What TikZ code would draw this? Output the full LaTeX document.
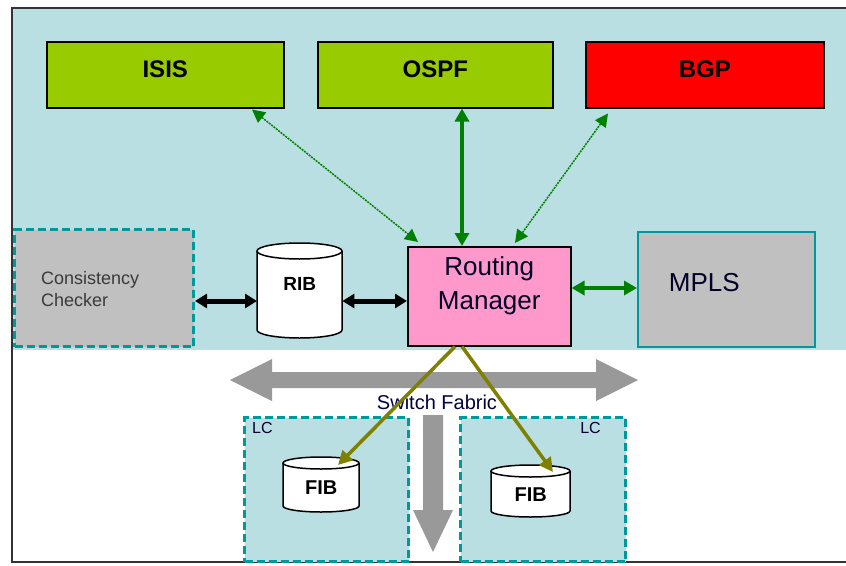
\documentclass[tikz,border=0pt]{standalone}
\usepackage{fontspec}
\setmainfont{Liberation Sans}
\usetikzlibrary{arrows.meta,calc}

\definecolor{panel}{HTML}{BADFE2}
\definecolor{protogreen}{HTML}{99CC00}
\definecolor{protored}{HTML}{FF0000}
\definecolor{mgrpink}{HTML}{FF99CC}
\definecolor{boxgray}{HTML}{C0C0C0}
\definecolor{teal}{HTML}{009999}
\definecolor{linkgreen}{HTML}{008000}
\definecolor{fiblink}{HTML}{808000}
\definecolor{fabric}{HTML}{999999}
\definecolor{framecol}{HTML}{333333}
\definecolor{cctext}{HTML}{3A3A3A}

% database drum: left, top, right, bottom, half-height of the end ellipses
\newcommand{\drum}[5]{%
  \pgfmathsetmacro\drumrx{(#3-#1)/2}%
  \pgfmathsetmacro\drumcx{(#1+#3)/2}%
  \fill[white] (#1,#2+#5) -- (#1,#4-#5)
    arc[start angle=180,end angle=360,x radius=\drumrx pt,y radius=#5pt]
    -- (#3,#2+#5) -- cycle;
  \draw[drumline] (#1,#2+#5) -- (#1,#4-#5)
    arc[start angle=180,end angle=360,x radius=\drumrx pt,y radius=#5pt]
    -- (#3,#2+#5);
  \draw[drumline,fill=white] (\drumcx,#2+#5) ellipse[x radius=\drumrx pt,y radius=#5pt];
}

\begin{document}
\begin{tikzpicture}[x=1pt,y=-1pt,
  box/.style={anchor=north west,inner sep=0pt,draw=black,line width=1.5pt},
  dashbox/.style={anchor=north west,inner sep=0pt,draw=teal,line width=3pt,
    dash pattern=on 8pt off 4pt},
  slot/.style={anchor=north west,inner sep=0pt},
  drumline/.style={draw=black,line width=1.5pt},
  proto/.style={font=\fontsize{24}{28}\selectfont\bfseries},
  big/.style={font=\fontsize{26}{32}\selectfont},
  blk/.style={draw=black,line width=5pt,{Triangle[length=12pt,width=14pt]}-{Triangle[length=12pt,width=14pt]}},
  grnthick/.style={draw=linkgreen,line width=3.5pt,{Triangle[length=13pt,width=14pt]}-{Triangle[length=13pt,width=14pt]}},
  grnthin/.style={draw=linkgreen,line width=1.5pt,dash pattern=on 2pt off 1pt,
    {Triangle[length=13pt,width=13pt]}-{Triangle[length=13pt,width=13pt]}},
  olv/.style={draw=fiblink,line width=3.5pt,-{Triangle[length=14pt,width=14pt]}}]

\useasboundingbox (0,0) rectangle (846,565);
\fill[white] (0,0) rectangle (846,565);

% control-plane panel and outer frame
\fill[panel] (12,8) rectangle (846,350);
\draw[framecol,line width=1.5pt] (846,8) -- (12,8) -- (12,562) -- (846,562);

% routing protocols
\node[box,fill=protogreen,minimum width=237pt,minimum height=66pt] (isis) at (46,41) {};
\node[box,fill=protogreen,minimum width=235pt,minimum height=66pt] (ospf) at (317,41) {};
\node[box,fill=protored,minimum width=238pt,minimum height=66pt] (bgp) at (585,41) {};
\node[proto] (isisT) at ($(isis.center)+(0,-6)$) {ISIS};
\node[proto] (ospfT) at ($(ospf.center)+(0,-6)$) {OSPF};
\node[proto] (bgpT) at ($(bgp.center)+(0,-6)$) {BGP};

% consistency checker
\node[dashbox,fill=boxgray,minimum width=179pt,minimum height=117pt] (cc) at (13,228) {};
\node[anchor=west,inner sep=0pt,align=left,text=cctext,
  font=\fontsize{18}{22}\selectfont] (ccT) at (41,289) {Consistency\\Checker};

% RIB
\node[slot,minimum width=85pt,minimum height=95pt] (rib) at (257,243) {};
\drum{257}{243}{342}{338}{8}
\node[font=\fontsize{19}{22}\selectfont\bfseries] (ribT) at ($(rib.center)+(0,-7)$) {RIB};

% routing manager
\node[box,fill=mgrpink,minimum width=163pt,minimum height=99pt] (rm) at (407,246) {};
\node[big,align=center,inner sep=0pt,text=black!85!blue] (rmT) at ($(rm.center)+(0,-10)$)
  {Routing\\[2pt]Manager};

% MPLS
\node[anchor=north west,inner sep=0pt,draw=teal,line width=1.5pt,fill=boxgray,
  minimum width=177pt,minimum height=115pt] (mpls) at (637,231) {};
\node[big,text=black!85!blue] (mplsT) at ($(mpls.center)+(-22,-7)$) {MPLS};

% switch fabric
\fill[fabric] (230,380) -- (272,359) -- (272,372) -- (596,372) -- (596,359)
  -- (638,380) -- (596,401) -- (596,388) -- (272,388) -- (272,401) -- cycle;
\fill[fabric] (423,415) -- (443,415) -- (443,510) -- (453,510) -- (433,552)
  -- (413,510) -- (423,510) -- cycle;

% line cards
\node[dashbox,fill=panel,minimum width=164pt,minimum height=144pt] (lcL) at (243,416) {};
\node[dashbox,fill=panel,minimum width=165pt,minimum height=144pt] (lcR) at (459,416) {};
\node[font=\fontsize{16}{18}\selectfont,text=black!80!blue,anchor=west,inner sep=0pt]
  (lcLT) at ($(lcL.north west)+(9,12)$) {LC};
\node[font=\fontsize{16}{18}\selectfont,text=black!80!blue,anchor=east,inner sep=0pt]
  (lcRT) at ($(lcR.north east)+(-26,12)$) {LC};

\node[font=\fontsize{20}{24}\selectfont,text=black!75!blue] (sfT) at (437,402) {Switch Fabric};

% forwarding tables
\node[slot,minimum width=76pt,minimum height=55pt] (fibL) at (283,457) {};
\drum{283}{457}{359}{512}{6}
\node[font=\fontsize{20}{24}\selectfont\bfseries] (fibLT) at ($(fibL.center)+(0,3)$) {FIB};
\node[slot,minimum width=79pt,minimum height=52pt] (fibR) at (491,465) {};
\drum{491}{465}{570}{517}{6}
\node[font=\fontsize{20}{24}\selectfont\bfseries] (fibRT) at ($(fibR.center)+(0,3)$) {FIB};

% connectors
\coordinate (ccE) at ($(cc.south east)+(0,-47)$);
\draw[blk] (ccE) -- (rib.west |- ccE);
\draw[blk] (rib.east |- ccE) -- (rm.west |- ccE);
\coordinate (rmE) at ($(rm.north east)+(0,42)$);
\draw[grnthick] (rmE) -- (mpls.west |- rmE);
\draw[grnthin] ($(isis.south west)+(206,1)$) -- ($(rm.north west)+(11,-4)$);
\draw[grnthick] ($(ospf.south west)+(145,0)$) -- ($(rm.north west)+(55,0)$);
\draw[grnthin] ($(bgp.south west)+(23,5)$) -- ($(rm.north west)+(108,-3)$);
\draw[olv] ($(rm.south west)+(48,0)$) -- ($(fibL.north west)+(55,8)$);
\draw[olv] ($(rm.south west)+(55,0)$) -- ($(fibR.north west)+(62,7)$);
\end{tikzpicture}
\end{document}
